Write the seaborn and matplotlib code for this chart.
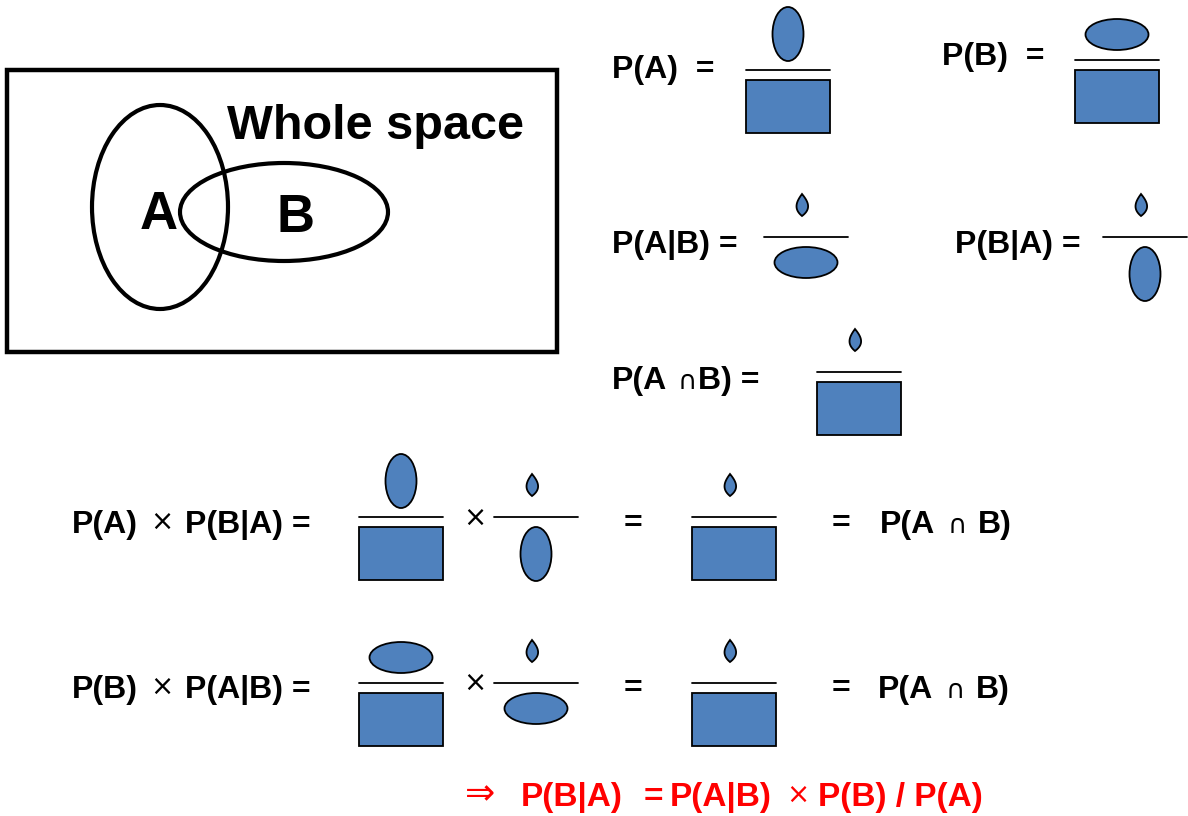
import numpy as np
import matplotlib
matplotlib.use('Agg')
import matplotlib.pyplot as plt
import seaborn as sns
from matplotlib.patches import Ellipse, Rectangle, Polygon

sns.set_theme(style="white")
plt.rcParams['font.family'] = ['Liberation Sans', 'DejaVu Sans']
plt.rcParams['text.color'] = 'black'

BLUE = '#4F81BD'
RED = '#FF0000'

# Venn labels
venn_labels = ["A", "B"]
space_label = "Whole space"

# text pieces of the formulas: (text, is_symbol)
top_formulas = [
    [("P(A)  =", False)],
    [("P(B)  =", False)],
    [("P(A|B) =", False)],
    [("P(B|A) =", False)],
    [("P(A", False), ("\u2229", True), ("B) =", False)],
]
row_formulas = [
    [("P(A)", False), ("\u00d7", True), ("P(B|A) =", False)],
    [("P(B)", False), ("\u00d7", True), ("P(A|B) =", False)],
]
row_result = [("P(A", False), ("\u2229", True), ("B)", False)]
bayes_parts = [("\u21d2", True), ("P(B|A)", False), ("=", False), ("P(A|B)", False),
               ("\u00d7", True), ("P(B) / P(A)", False)]

# fraction shapes: numerator / denominator
top_num = ['vell', 'hell', 'lens', 'lens', 'lens']
top_den = ['rect', 'rect', 'hell', 'vell', 'rect']
row_num = [['vell', 'lens', 'lens'], ['hell', 'lens', 'lens']]
row_den = [['rect', 'vell', 'rect'], ['rect', 'hell', 'rect']]

# ---- layout (pixels) ----
top_text_pos = [(612, 78), (942, 65), (612, 253), (955, 253), (612, 389)]
top_piece_x = [[612], [942], [612], [955], [612, 678, 698]]
top_frac_pos = [(788, 70), (1117, 60), (806, 237), (1145, 237), (859, 372)]
row_base = [533, 698]
row_piece_x = [[72, 150, 185], [72, 150, 185]]
row_line_y = [517, 683]
row_frac_x = [401, 536, 734]
row_times_x = 463
row_eq_x = [[624, 832], [624, 832]]
row_res_x = [[880, 948, 978], [878, 946, 976]]
bayes_x = [465, 521, 644, 670, 786, 818]
bayes_base = 806

FS = 23

fig = plt.figure(figsize=(11.88, 8.16), dpi=100)
ax = fig.add_axes([0, 0, 1, 1])
ax.set_xlim(0, 1188)
ax.set_ylim(816, 0)
ax.axis('off')

SYM_SIZE = {'\u00d7': 20, '\u2229': 19, '\u21d2': 26}
SYM_LIFT = {'\u00d7': 3, '\u2229': 0, '\u21d2': 2}


def piece(x, y, s, sym, size=FS, color='black'):
    if sym:
        ax.text(x, y - SYM_LIFT[s], s, ha='left', va='baseline', fontsize=SYM_SIZE[s],
                fontweight='normal', color=color, family=['DejaVu Sans'])
    else:
        ax.text(x, y, s, ha='left', va='baseline', fontsize=size,
                fontweight='bold', color=color)


def shape(kind, cx, ly, top):
    # top=True -> numerator above the line
    if kind == 'rect':
        w, h = 84, 53
        y0 = ly + 10 if not top else ly - 10 - h
        ax.add_patch(Rectangle((cx - w / 2, y0), w, h, fc=BLUE, ec='black', lw=1.3))
    elif kind == 'vell':
        w, h = 31, 54
        cy = ly - 9 - h / 2 if top else ly + 10 + h / 2
        ax.add_patch(Ellipse((cx, cy), w, h, fc=BLUE, ec='black', lw=1.3))
    elif kind == 'hell':
        w, h = 63, 31
        cy = ly - 10 - h / 2 if top else ly + 10 + h / 2
        ax.add_patch(Ellipse((cx, cy), w, h, fc=BLUE, ec='black', lw=1.3))
    elif kind == 'lens':
        h = 22
        cy = ly - 21 - h / 2
        t = np.linspace(-1, 1, 40)
        prof = 6 * (1 - t ** 2) * (1 + 0.25 * t)
        xs = np.concatenate([cx - 4 + prof, (cx - 4 - prof * 0.9)[::-1]])
        ys = np.concatenate([cy + t * h / 2, (cy + t * h / 2)[::-1]])
        ax.add_patch(Polygon(np.column_stack([xs, ys]), closed=True, fc=BLUE,
                             ec='black', lw=1.3))


def fraction(cx, ly, num, den):
    ax.plot([cx - 42, cx + 42], [ly, ly], color='black', lw=1.3)
    shape(num, cx, ly, True)
    shape(den, cx, ly, False)


# Venn diagram
ax.add_patch(Rectangle((7, 70), 550, 282, fill=False, ec='black', lw=3.2))
ax.add_patch(Ellipse((160, 207), 136, 204, fill=False, ec='black', lw=3.0))
ax.add_patch(Ellipse((284, 212), 208, 98, fill=False, ec='black', lw=3.0))
ax.text(227, 139, space_label, ha='left', va='baseline', fontsize=35, fontweight='bold')
ax.text(159, 229, venn_labels[0], ha='center', va='baseline', fontsize=38, fontweight='bold')
ax.text(295, 232, venn_labels[1], ha='center', va='baseline', fontsize=38, fontweight='bold')

# top formulas
for parts, xs, (x0, yb), (fx, fy), n, d in zip(top_formulas, top_piece_x, top_text_pos,
                                             top_frac_pos, top_num, top_den):
    for (s, sym), px in zip(parts, xs):
        piece(px, yb, s, sym)
    fraction(fx, fy, n, d)

# product rows
for i in range(2):
    yb = row_base[i]
    for (s, sym), px in zip(row_formulas[i], row_piece_x[i]):
        piece(px, yb, s, sym)
    for fx, n, d in zip(row_frac_x, row_num[i], row_den[i]):
        fraction(fx, row_line_y[i], n, d)
    piece(row_times_x, yb - 4, "\u00d7", True)
    for ex in row_eq_x[i]:
        piece(ex, yb - 1, "=", False)
    for (s, sym), px in zip(row_result, row_res_x[i]):
        piece(px, yb, s, sym)

# Bayes result in red
for (s, sym), px in zip(bayes_parts, bayes_x):
    piece(px, bayes_base, s, sym, size=24, color=RED)

fig.savefig('out.png', dpi=100, facecolor='white')
